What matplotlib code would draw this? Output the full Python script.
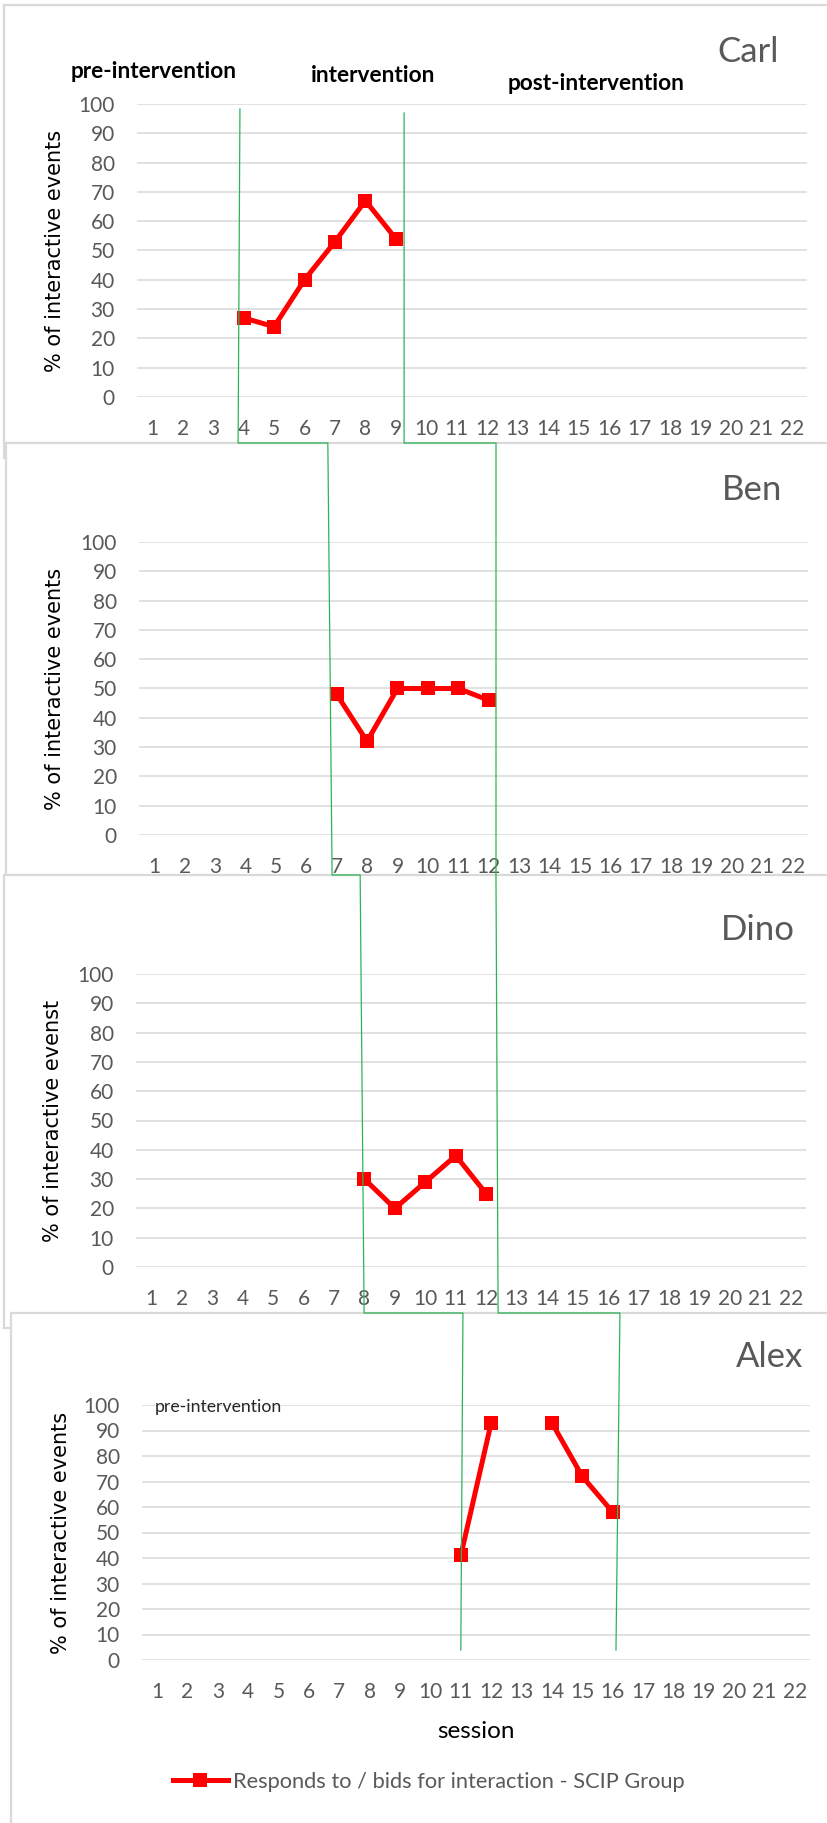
import numpy as np
import matplotlib
matplotlib.use("Agg")
import matplotlib.pyplot as plt
from matplotlib.patches import Rectangle
from matplotlib.lines import Line2D

W, H = 827, 1823

# sessions on the category axis
sessions = list(range(1, 23))
session_labels = [str(s) for s in sessions]
y_ticks = list(range(0, 101, 10))

# % of interactive events per child
carl_sessions = [4, 5, 6, 7, 8, 9]
carl_values = [27, 24, 40, 53, 67, 54]
ben_sessions = [7, 8, 9, 10, 11, 12]
ben_values = [48, 32, 50, 50, 50, 46]
dino_sessions = [8, 9, 10, 11, 12]
dino_values = [30, 20, 29, 38, 25]
alex_sessions = [11, 12, 13, 14, 15, 16]
alex_values = [41, 93, np.nan, 93, 72, 58]   # no data for session 13

names = ["Carl", "Ben", "Dino", "Alex"]
ylabels = ["% of interactive events", "% of interactive events",
           "% of interactive evenst", "% of interactive events"]
series_label = "Responds to / bids for interaction - SCIP Group"

GRAY_TXT = "#595959"
GRID = "#d9d9d9"
RED = "#ff0000"
GREEN = "#2bb457"
CAL = ["Lato", "DejaVu Sans"]

fig = plt.figure(figsize=(W / 100, H / 100), dpi=100)


def fx(px):
    return px / W


def fy(py):
    return 1 - py / H


def add_px_axes(l, t, r, b):
    return fig.add_axes([fx(l), fy(b), (r - l) / W, (b - t) / H])


# chart frames, each later one overlapping the one above it
frames = [(4, 5, 458), (6, 443, 890), (4, 875, 1328), (11, 1313, 1830)]
for i, (l, t, b) in enumerate(frames):
    fig.patches.append(Rectangle((fx(l), fy(b)), fx(840) - fx(l), fy(t) - fy(b),
                                 transform=fig.transFigure, facecolor="white",
                                 edgecolor=GRID, linewidth=1.6, zorder=-5 + i))

boxes = [(137, 104, 807, 397), (139, 542, 808, 835),
         (136, 974, 806, 1267), (142, 1405, 810, 1660)]
data = [(carl_sessions, carl_values), (ben_sessions, ben_values),
        (dino_sessions, dino_values), (alex_sessions, alex_values)]
title_pos = [(717, 62), (722, 500), (721, 940), (736, 1367)]
ylabel_x = [55, 55, 53, 61]

axes = []
for i, box in enumerate(boxes):
    ax = add_px_axes(*box)
    ax.set_facecolor("none")
    xs, ys = data[i]
    ax.plot(xs, ys, color=RED, linewidth=3.6, marker="s", markersize=10,
            markeredgewidth=0, label=series_label, zorder=3)
    ax.set_xlim(0.5, 22.5)
    ax.set_ylim(0, 100)
    ax.set_xticks(sessions)
    ax.set_xticklabels(session_labels)
    ax.set_yticks(y_ticks)
    ax.grid(axis="y", color=GRID, linewidth=1.1)
    ax.set_axisbelow(True)
    for s in ax.spines.values():
        s.set_visible(False)
    ax.tick_params(axis="both", length=0, labelsize=15, labelcolor=GRAY_TXT)
    ax.tick_params(axis="x", pad=16)
    ax.tick_params(axis="y", pad=16)
    for lab in ax.get_xticklabels() + ax.get_yticklabels():
        lab.set_family(CAL)
    ax.set_ylabel(ylabels[i], fontsize=15, family="DejaVu Sans", color="black",
                  va="center")
    l, t, r, b = box
    ax.yaxis.set_label_coords(-(l - ylabel_x[i]) / (r - l), 0.5)
    tx, ty = title_pos[i]
    fig.text(fx(tx), fy(ty), names[i], fontsize=25, color=GRAY_TXT,
             family=CAL, ha="left", va="baseline")
    axes.append(ax)

# phase headings
fig.text(fx(71), fy(72), "pre-intervention", fontsize=16.3, fontweight="bold",
         family=CAL, ha="left", va="center")
fig.text(fx(311), fy(75), "intervention", fontsize=16.3, fontweight="bold",
         family=CAL, ha="left", va="center")
fig.text(fx(508), fy(83), "post-intervention", fontsize=16.3, fontweight="bold",
         family=CAL, ha="left", va="center")
fig.text(fx(155), fy(1407), "pre-intervention", fontsize=12.7, color="#262626",
         family=CAL, ha="left", va="center")

ax_alex = axes[3]
ax_alex.set_xlabel("session", fontsize=17.5, family=CAL, color="black", va="center")
ax_alex.xaxis.set_label_coords(0.5, -(1732 - 1660) / (1660 - 1405))

leg = ax_alex.legend(loc="center left", bbox_to_anchor=(fx(173), fy(1782)),
                     bbox_transform=fig.transFigure, frameon=False,
                     borderpad=0, borderaxespad=0, handlelength=2.5,
                     handletextpad=0.25, prop={"family": CAL, "size": 15.7})
for t in leg.get_texts():
    t.set_color(GRAY_TXT)

# phase change lines running down through the panels: (panel, session x, y px)
phase_a = [(0, 3.88, 109), (0, 3.82, 443), (1, 6.71, 443), (1, 6.85, 875),
           (2, 7.86, 875), (2, 7.99, 1313), (3, 11.07, 1313), (3, 11.0, 1650)]
phase_b = [(0, 9.27, 113), (0, 9.27, 443), (1, 12.24, 443), (1, 12.24, 875),
           (2, 12.32, 875), (2, 12.39, 1313), (3, 16.24, 1313), (3, 16.11, 1650)]

for pts in (phase_a, phase_b):
    xs, ys = [], []
    for k, xd, ypx in pts:
        xpix = axes[k].transData.transform((xd, 0))[0]
        xs.append(xpix / fig.bbox.width)
        ys.append(fy(ypx))
    fig.lines.append(Line2D(xs, ys, transform=fig.transFigure, color=GREEN,
                            linewidth=0.9, zorder=4))

fig.savefig("out.png", dpi=100)
